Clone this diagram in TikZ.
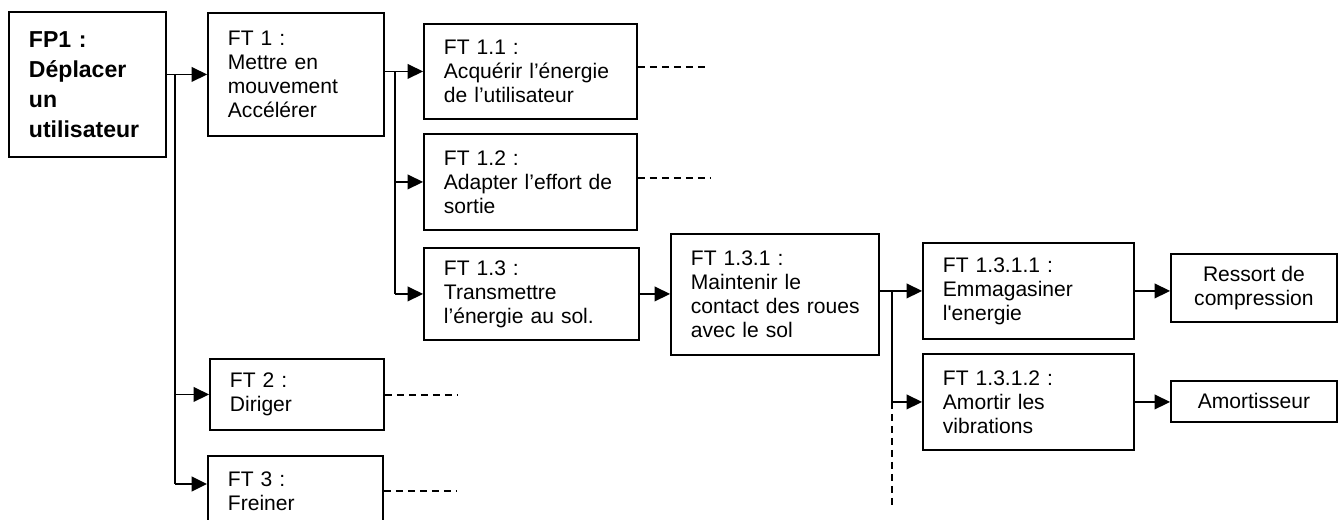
\documentclass[tikz,border=0pt]{standalone}
\usepackage{fontspec}
\setmainfont{Liberation Sans}
\usepackage{tikz}
\usetikzlibrary{positioning, arrows.meta, calc}

\begin{document}
\begin{tikzpicture}[x=0.75pt, y=-0.75pt,
    fbox/.style={draw, line width=1.4pt, anchor=north west, inner xsep=15pt, inner ysep=0pt,
      align=left, font=\fontsize{15.8}{18}\selectfont},
    rbox/.style={draw, line width=1.4pt, anchor=north west, inner sep=0pt, minimum width=124.5pt,
      align=center, font=\fontsize{15.8}{18}\selectfont},
    arr/.style={line width=1.3pt, -{Triangle[length=11.5pt, width=11pt]}},
    lnk/.style={line width=1.3pt},
    stub/.style={line width=1.1pt, dash pattern=on 5.25pt off 3.75pt}]
  \useasboundingbox (0,0) rectangle (1340,519);
  \clip (0,0) rectangle (1340,519);

  \node[fbox, minimum width=117.75pt, minimum height=108.75pt, text width=87.75pt,
    font=\fontsize{17.3}{22.5}\selectfont\bfseries] (FP1) at (8,11)
    {FP1 :\\Déplacer\\un\\utilisateur};

  \node[fbox, minimum width=132pt, minimum height=92.25pt, text width=102pt] (FT1) at (207,12)
    {FT 1 :\\Mettre en\\mouvement\\Accélérer};
  \node[fbox, minimum width=130.5pt, minimum height=53.25pt, text width=100.5pt] (FT2) at (209,358)
    {FT 2 :\\Diriger};
  \node[fbox, minimum width=131.25pt, minimum height=52.5pt, text width=101.25pt] (FT3) at (207,455)
    {FT 3 :\\Freiner};

  \node[fbox, minimum width=159.75pt, minimum height=71.25pt, text width=129.75pt] (FT11) at (423,23)
    {FT 1.1 :\\Acquérir l’énergie\\de l’utilisateur};
  \node[fbox, minimum width=159.75pt, minimum height=72pt, text width=129.75pt] (FT12) at (423,133)
    {FT 1.2 :\\Adapter l’effort~de\\sortie};
  \node[fbox, minimum width=161.25pt, minimum height=69pt, text width=131.25pt] (FT13) at (423,247)
    {FT 1.3 :\\Transmettre\\l’énergie au sol.};

  \node[fbox, minimum width=156pt, minimum height=90.75pt, text width=126pt] (FT131) at (670,233)
    {FT 1.3.1 :\\Maintenir le\\contact~des~roues\\avec le sol};

  \node[fbox, minimum width=158.25pt, minimum height=72pt, text width=128.25pt] (FT1311) at (922,242)
    {FT 1.3.1.1 :\\Emmagasiner\\l\textquotesingle energie};
  \node[fbox, minimum width=158.25pt, minimum height=72pt, text width=128.25pt] (FT1312) at (922,353)
    {FT 1.3.1.2 :\\Amortir les\\vibrations};

  \node[rbox, minimum height=51pt] (ressort) at (1170,253) {Ressort de\\compression};
  \node[rbox, minimum height=30.75pt] (amort) at (1170,380) {Amortisseur};

  \coordinate (j1) at (175,0);
  \coordinate (j2) at (395,0);
  \coordinate (j3) at (892,0);
  \coordinate (ft3in) at ($(FT3.north west)+(0,29)$);
  \coordinate (s11) at (707,67);
  \coordinate (s12) at (710,178);
  \coordinate (s2) at (458,395);
  \coordinate (s3) at (456,491);
  \coordinate (vend) at (892,507);

  \draw[arr] (FP1.east |- FT1.west) -- (FT1.west);
  \draw[lnk] (j1 |- FT1.west) -- (j1 |- ft3in);
  \draw[arr] (j1 |- FT2.west) -- (FT2.west);
  \draw[arr] (j1 |- ft3in) -- (ft3in);

  \draw[arr] (FT1.east |- FT11.west) -- (FT11.west);
  \draw[lnk] (j2 |- FT11.west) -- (j2 |- FT13.west);
  \draw[arr] (j2 |- FT12.west) -- (FT12.west);
  \draw[arr] (j2 |- FT13.west) -- (FT13.west);

  \draw[arr] (FT13.east) -- (FT131.west |- FT13.east);
  \draw[arr] (FT131.east |- FT1311.west) -- (FT1311.west);
  \draw[lnk] (j3 |- FT1311.west) -- (j3 |- FT1312.west);
  \draw[arr] (j3 |- FT1312.west) -- (FT1312.west);
  \draw[stub] (j3 |- FT1312.west) -- (vend);

  \draw[arr] (FT1311.east) -- (ressort.west |- FT1311.east);
  \draw[arr] (FT1312.east) -- (amort.west |- FT1312.east);

  \draw[stub] (FT11.east |- s11) -- (s11);
  \draw[stub] (FT12.east |- s12) -- (s12);
  \draw[stub] (FT2.east |- s2) -- (s2);
  \draw[stub] (FT3.east |- s3) -- (s3);
\end{tikzpicture}
\end{document}
